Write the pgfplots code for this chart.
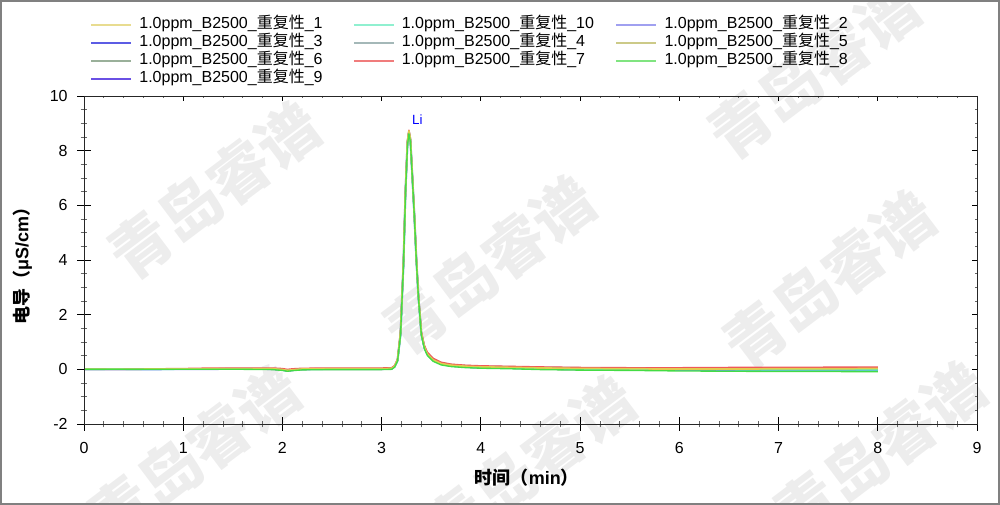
\documentclass[border=0pt]{standalone}
\usepackage{fontspec}
\setmainfont{Liberation Sans}
\newfontfamily\cjk{Noto Sans CJK SC}
\usepackage{pgfplots}
\pgfplotsset{compat=1.18}

\definecolor{rA}{HTML}{E0CC50}
\definecolor{rB}{HTML}{50F0B8}
\definecolor{rC}{HTML}{7878F0}
\definecolor{rD}{HTML}{3838E0}
\definecolor{rE}{HTML}{90A8A8}
\definecolor{rF}{HTML}{C0BC60}
\definecolor{rG}{HTML}{80A080}
\definecolor{rH}{HTML}{F05858}
\definecolor{rI}{HTML}{44DC44}
\definecolor{rJ}{HTML}{5030E0}
% lighter tones used by the legend samples
\definecolor{lA}{HTML}{E8DC90}
\definecolor{lB}{HTML}{90F0D0}
\definecolor{lC}{HTML}{A0A0F0}
\definecolor{lD}{HTML}{5C5CE4}
\definecolor{lE}{HTML}{A4B8B8}
\definecolor{lF}{HTML}{CCCA88}
\definecolor{lG}{HTML}{9AB09A}
\definecolor{lH}{HTML}{F07C7C}
\definecolor{lI}{HTML}{80E480}
\definecolor{lJ}{HTML}{6A50E4}

\newcommand\ent[1]{1.0ppm\_B2500\_{\cjk 重复性}\_#1}
\newcommand\wm[2]{\node[rotate=37, text=black!7, font=\cjk\bfseries\fontsize{46}{46}\selectfont] at (#1pt,#2pt) {青岛睿谱};}

\begin{document}
\begin{tikzpicture}
\useasboundingbox (0,0) rectangle (750pt,378.75pt);
% watermark
\wm{161}{236}
\wm{367}{180}
\wm{622}{169}
\wm{611}{326}
\wm{146}{38}
\wm{397}{30}
\wm{660}{41}

\begin{axis}[
  at={(63pt,60.75pt)}, anchor=south west,
  scale only axis, width=669.75pt, height=246pt,
  xmin=0, xmax=9, ymin=-2, ymax=10,
  xtick={0,...,9}, ytick={-2,0,...,10},
  minor x tick num=4, minor y tick num=3,
  xtick pos=left, ytick pos=left,
  tick align=center,
  major tick length=10pt, minor tick length=5pt,
  tick style={black, line width=0.6pt},
  minor tick style={black!60, line width=0.6pt},
  axis line style={black!85, line width=0.7pt},
  tick label style={font=\fontsize{12}{14}\selectfont},
  xticklabel style={yshift=-5.25pt},
  yticklabel style={xshift=-3.75pt},
  /pgf/number format/assume math mode=true,
  xlabel={{\cjk\bfseries 时间（}\textbf{min}{\cjk\bfseries ）}},
  ylabel={{\cjk\bfseries 电导（}\textbf{μS/cm}{\cjk\bfseries ）}},
  label style={font=\fontsize{13.5}{15}\selectfont},
  xlabel style={at={(axis description cs:0.496,-0.165)}, anchor=center},
  ylabel style={at={(axis description cs:-0.069,0.494)}, anchor=center},
  legend columns=3, legend cell align=left,
  legend image code/.code={\draw[#1] (0pt,0pt) -- (30pt,0pt);},
  legend style={
    at={(0.0067,1.244)}, anchor=north west,
    draw=none, fill=none, inner sep=0pt,
    font=\fontsize{12}{14}\selectfont,
    row sep=0pt,
    nodes={inner xsep=0pt, inner ysep=0pt, text height=9.5pt, text depth=4pt, text width=154pt, align=left},
    /tikz/every odd column/.append style={column sep=5.25pt},
    /tikz/every even column/.append style={column sep=6pt},
  },
  every axis plot/.append style={line width=1pt, line join=round},
]
% legend in the order of the reference
\addlegendimage{draw=lA, line width=1.6pt}\addlegendentry{\ent{1}}
\addlegendimage{draw=lB, line width=1.6pt}\addlegendentry{\ent{10}}
\addlegendimage{draw=lC, line width=1.8pt}\addlegendentry{\ent{2}}
\addlegendimage{draw=lD, line width=1.2pt}\addlegendentry{\ent{3}}
\addlegendimage{draw=lE, line width=1.2pt}\addlegendentry{\ent{4}}
\addlegendimage{draw=lF, line width=1.2pt}\addlegendentry{\ent{5}}
\addlegendimage{draw=lG, line width=1.2pt}\addlegendentry{\ent{6}}
\addlegendimage{draw=lH, line width=1.2pt}\addlegendentry{\ent{7}}
\addlegendimage{draw=lI, line width=1.2pt}\addlegendentry{\ent{8}}
\addlegendimage{draw=lJ, line width=1.2pt}\addlegendentry{\ent{9}}

% run 9
\addplot[rJ, forget plot] coordinates {(0,0.00)(0.3,0.00)(0.7,0.01)(1.0,0.01)(1.3,0.01)(1.6,0.02)(1.9,0.01)(2.0,-0.02)(2.05,-0.05)(2.1,-0.03)(2.2,0.00)(2.5,0.01)(2.8,0.01)(3.0,0.01)(3.1,0.02)(3.13,0.10)(3.16,0.32)(3.19,1.29)(3.22,3.89)(3.24,6.49)(3.26,8.29)(3.275,8.68)(3.29,8.38)(3.31,6.99)(3.33,5.59)(3.35,3.99)(3.37,2.69)(3.40,1.29)(3.43,0.80)(3.46,0.55)(3.52,0.33)(3.6,0.20)(3.7,0.13)(3.85,0.09)(4.0,0.07)(4.3,0.05)(4.6,0.03)(5.0,0.01)(5.5,0.00)(6.0,-0.01)(6.5,-0.02)(7.0,-0.02)(7.5,-0.03)(8.0,-0.03)};
% run 3
\addplot[rD, forget plot] coordinates {(0,0.00)(0.3,0.00)(0.7,0.00)(1.0,0.00)(1.3,0.01)(1.6,0.01)(1.9,0.01)(2.0,-0.03)(2.05,-0.06)(2.1,-0.04)(2.2,0.00)(2.5,0.00)(2.8,0.00)(3.0,0.00)(3.1,0.01)(3.13,0.09)(3.16,0.32)(3.19,1.28)(3.22,3.88)(3.24,6.48)(3.26,8.28)(3.275,8.67)(3.29,8.37)(3.31,6.99)(3.33,5.59)(3.35,3.99)(3.37,2.69)(3.40,1.29)(3.43,0.79)(3.46,0.54)(3.52,0.32)(3.6,0.19)(3.7,0.12)(3.85,0.08)(4.0,0.06)(4.3,0.04)(4.6,0.01)(5.0,-0.01)(5.5,-0.02)(6.0,-0.03)(6.5,-0.04)(7.0,-0.04)(7.5,-0.05)(8.0,-0.05)};
% run 2
\addplot[rC, line width=1.5pt, forget plot] coordinates {(0,0.00)(0.3,0.00)(0.7,0.00)(1.0,0.01)(1.3,0.01)(1.6,0.02)(1.9,0.01)(2.0,-0.02)(2.05,-0.05)(2.1,-0.03)(2.2,0.00)(2.5,0.01)(2.8,0.01)(3.0,0.01)(3.1,0.02)(3.13,0.10)(3.16,0.33)(3.19,1.30)(3.22,3.90)(3.24,6.50)(3.26,8.30)(3.275,8.69)(3.29,8.39)(3.31,7.00)(3.33,5.60)(3.35,4.00)(3.37,2.70)(3.40,1.30)(3.43,0.80)(3.46,0.55)(3.52,0.33)(3.6,0.20)(3.7,0.13)(3.85,0.09)(4.0,0.06)(4.3,0.05)(4.6,0.02)(5.0,0.00)(5.5,-0.01)(6.0,-0.02)(6.5,-0.03)(7.0,-0.03)(7.5,-0.04)(8.0,-0.04)};
% run 4
\addplot[rE, forget plot] coordinates {(0,0.00)(0.3,0.00)(0.7,0.01)(1.0,0.02)(1.3,0.02)(1.6,0.03)(1.9,0.03)(2.0,0.00)(2.05,-0.03)(2.1,-0.01)(2.2,0.02)(2.5,0.03)(2.8,0.03)(3.0,0.03)(3.1,0.04)(3.13,0.12)(3.16,0.35)(3.19,1.32)(3.22,3.92)(3.24,6.52)(3.26,8.32)(3.275,8.70)(3.29,8.41)(3.31,7.03)(3.33,5.63)(3.35,4.04)(3.37,2.75)(3.40,1.36)(3.43,0.86)(3.46,0.61)(3.52,0.39)(3.6,0.25)(3.7,0.18)(3.85,0.14)(4.0,0.12)(4.3,0.10)(4.6,0.08)(5.0,0.06)(5.5,0.05)(6.0,0.05)(6.5,0.05)(7.0,0.05)(7.5,0.06)(8.0,0.06)};
% run 6
\addplot[rG, forget plot] coordinates {(0,0.00)(0.3,0.00)(0.7,0.00)(1.0,0.01)(1.3,0.01)(1.6,0.02)(1.9,0.02)(2.0,-0.02)(2.05,-0.05)(2.1,-0.02)(2.2,0.01)(2.5,0.01)(2.8,0.02)(3.0,0.02)(3.1,0.02)(3.13,0.10)(3.16,0.33)(3.19,1.31)(3.22,3.91)(3.24,6.51)(3.26,8.31)(3.275,8.69)(3.29,8.39)(3.31,7.00)(3.33,5.60)(3.35,4.00)(3.37,2.70)(3.40,1.30)(3.43,0.81)(3.46,0.56)(3.52,0.34)(3.6,0.21)(3.7,0.14)(3.85,0.10)(4.0,0.08)(4.3,0.06)(4.6,0.04)(5.0,0.02)(5.5,0.01)(6.0,0.01)(6.5,0.01)(7.0,0.02)(7.5,0.02)(8.0,0.02)};
% run 5
\addplot[rF, forget plot] coordinates {(0,0.00)(0.3,0.01)(0.7,0.01)(1.0,0.01)(1.3,0.02)(1.6,0.02)(1.9,0.02)(2.0,-0.01)(2.05,-0.04)(2.1,-0.02)(2.2,0.01)(2.5,0.02)(2.8,0.02)(3.0,0.02)(3.1,0.03)(3.13,0.10)(3.16,0.34)(3.19,1.33)(3.22,3.93)(3.24,6.53)(3.26,8.33)(3.275,8.71)(3.29,8.40)(3.31,7.01)(3.33,5.61)(3.35,4.01)(3.37,2.71)(3.40,1.31)(3.43,0.82)(3.46,0.57)(3.52,0.35)(3.6,0.22)(3.7,0.15)(3.85,0.11)(4.0,0.09)(4.3,0.07)(4.6,0.05)(5.0,0.03)(5.5,0.03)(6.0,0.03)(6.5,0.03)(7.0,0.04)(7.5,0.04)(8.0,0.04)};
% run 7
\addplot[rH, forget plot] coordinates {(0,0.00)(0.3,0.01)(0.7,0.02)(1.0,0.03)(1.3,0.05)(1.6,0.05)(1.9,0.05)(2.0,0.03)(2.05,0.00)(2.1,0.02)(2.2,0.04)(2.5,0.05)(2.8,0.05)(3.0,0.05)(3.1,0.06)(3.13,0.14)(3.16,0.38)(3.19,1.38)(3.22,3.98)(3.24,6.58)(3.26,8.38)(3.275,8.75)(3.29,8.45)(3.31,7.06)(3.33,5.66)(3.35,4.07)(3.37,2.78)(3.40,1.39)(3.43,0.89)(3.46,0.63)(3.52,0.40)(3.6,0.26)(3.7,0.19)(3.85,0.15)(4.0,0.13)(4.3,0.11)(4.6,0.09)(5.0,0.07)(5.5,0.06)(6.0,0.06)(6.5,0.07)(7.0,0.07)(7.5,0.08)(8.0,0.08)};
% run 10
\addplot[rB, line width=1.3pt, forget plot] coordinates {(0,0.00)(0.3,0.01)(0.7,0.00)(1.0,0.01)(1.3,0.01)(1.6,0.01)(1.9,0.01)(2.0,-0.02)(2.05,-0.05)(2.1,-0.03)(2.2,0.00)(2.5,0.01)(2.8,0.01)(3.0,0.01)(3.1,0.02)(3.13,0.09)(3.16,0.31)(3.19,1.25)(3.22,3.85)(3.24,6.45)(3.26,8.25)(3.275,8.66)(3.29,8.36)(3.31,6.98)(3.33,5.58)(3.35,3.98)(3.37,2.68)(3.40,1.28)(3.43,0.79)(3.46,0.54)(3.52,0.32)(3.6,0.19)(3.7,0.13)(3.85,0.09)(4.0,0.07)(4.3,0.05)(4.6,0.03)(5.0,0.01)(5.5,0.00)(6.0,-0.01)(6.5,-0.01)(7.0,-0.02)(7.5,-0.02)(8.0,-0.02)};
% run 1
\addplot[rA, line width=1.3pt, forget plot] coordinates {(0,0.00)(0.3,0.00)(0.7,0.01)(1.0,0.01)(1.3,0.02)(1.6,0.02)(1.9,0.02)(2.0,-0.01)(2.05,-0.04)(2.1,-0.02)(2.2,0.01)(2.5,0.02)(2.8,0.02)(3.0,0.02)(3.1,0.03)(3.13,0.11)(3.16,0.35)(3.19,1.35)(3.22,3.95)(3.24,6.55)(3.26,8.35)(3.275,8.72)(3.29,8.42)(3.31,7.02)(3.33,5.62)(3.35,4.02)(3.37,2.72)(3.40,1.32)(3.43,0.82)(3.46,0.56)(3.52,0.34)(3.6,0.21)(3.7,0.15)(3.85,0.11)(4.0,0.09)(4.3,0.07)(4.6,0.05)(5.0,0.03)(5.5,0.02)(6.0,0.01)(6.5,0.01)(7.0,0.02)(7.5,0.02)(8.0,0.03)};
% run 8
\addplot[rI, forget plot] coordinates {(0,0.00)(0.3,0.00)(0.7,0.00)(1.0,0.00)(1.3,0.00)(1.6,0.00)(1.9,-0.01)(2.0,-0.04)(2.05,-0.07)(2.1,-0.05)(2.2,-0.02)(2.5,-0.01)(2.8,-0.01)(3.0,-0.01)(3.1,0.00)(3.13,0.08)(3.16,0.30)(3.19,1.24)(3.22,3.82)(3.24,6.40)(3.26,8.20)(3.275,8.62)(3.29,8.32)(3.31,6.95)(3.33,5.55)(3.35,3.95)(3.37,2.66)(3.40,1.26)(3.43,0.76)(3.46,0.51)(3.52,0.29)(3.6,0.16)(3.7,0.10)(3.85,0.06)(4.0,0.04)(4.3,0.02)(4.6,-0.01)(5.0,-0.03)(5.5,-0.04)(6.0,-0.06)(6.5,-0.07)(7.0,-0.08)(7.5,-0.08)(8.0,-0.09)};

\node[text=blue, font=\fontsize{10}{12}\selectfont] at (axis cs:3.36,9.12) {Li};
\end{axis}

% inward ticks on the top and right sides
\begin{axis}[
  at={(63pt,60.75pt)}, anchor=south west,
  scale only axis, width=669.75pt, height=246pt,
  xmin=0, xmax=9, ymin=-2, ymax=10,
  xtick={0,...,9}, ytick={-2,0,...,10},
  minor x tick num=4, minor y tick num=3,
  xtick pos=right, ytick pos=right,
  tick align=inside,
  major tick length=3.75pt, minor tick length=1.8pt,
  tick style={black, line width=0.6pt},
  minor tick style={black!60, line width=0.6pt},
  axis line style={black!85, line width=0.7pt},
  xticklabel=\empty, yticklabel=\empty,
]
\end{axis}

\draw[black!50, line width=1.2pt] (0.6pt,0.6pt) rectangle (749.4pt,378.15pt);
\end{tikzpicture}
\end{document}
